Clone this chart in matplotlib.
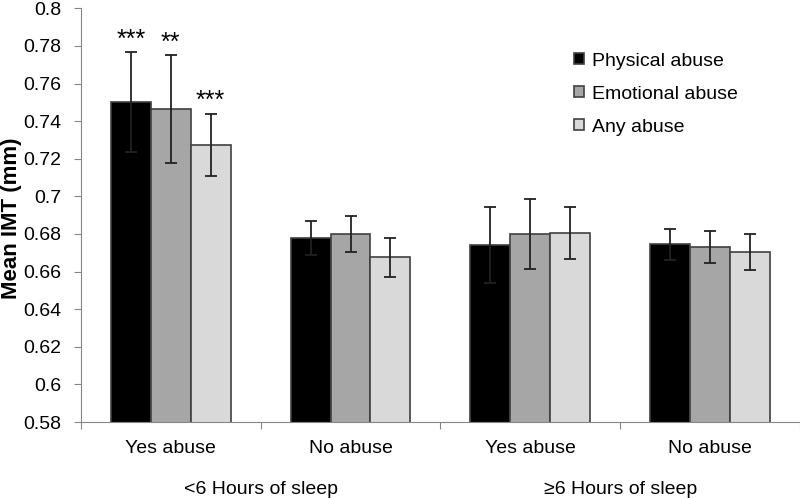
import matplotlib
matplotlib.use("Agg")
import matplotlib.pyplot as plt
import numpy as np

plt.rcParams['font.family'] = ['Liberation Sans', 'DejaVu Sans']

categories = ["Yes abuse", "No abuse", "Yes abuse", "No abuse"]
groups = ["<6 Hours of sleep", "\u22656 Hours of sleep"]
series = ["Physical abuse", "Emotional abuse", "Any abuse"]
colors = ["#000000", "#A6A6A6", "#D9D9D9"]

means = [
    [0.750, 0.678, 0.674, 0.6746],   # physical
    [0.7464, 0.680, 0.680, 0.6729],  # emotional
    [0.7274, 0.6675, 0.6806, 0.6704],  # any
]
errors = [
    [0.0266, 0.009, 0.0203, 0.0083],
    [0.0286, 0.0096, 0.0186, 0.0086],
    [0.0166, 0.0105, 0.0137, 0.0097],
]
stars = [
    ["***", "", "", ""],
    ["**", "", "", ""],
    ["***", "", "", ""],
]

fig = plt.figure(figsize=(8, 4.99), dpi=100)
ax = fig.add_axes([0.101, 0.1543, 0.899, 0.829])

x = np.arange(len(categories))
w = 0.222
for i, name in enumerate(series):
    pos = x + (i - 1) * w
    ax.bar(pos, means[i], w, bottom=0, color=colors[i], edgecolor="#404040",
           linewidth=1.2, label=name, zorder=2)
    ax.errorbar(pos, means[i], yerr=errors[i], fmt="none", ecolor="#222222",
                elinewidth=1.3, capsize=4, capthick=1.3, zorder=3)
    for p, m, e, s in zip(pos, means[i], errors[i], stars[i]):
        if s:
            ax.text(p, m + e + 0.0003, s, ha="center", va="bottom", fontsize=18)

ax.set_ylim(0.58, 0.8)
ax.set_xlim(-0.5, len(categories) - 0.5)
yt = np.arange(0.58, 0.8001, 0.02)
ax.set_yticks(yt)
ax.set_yticklabels(["%g" % round(v, 2) for v in yt])
ax.set_xticks(np.arange(-0.5, len(categories), 1.0))
ax.set_xticklabels([])
ax.set_xticks(x, minor=True)
ax.set_xticklabels(categories, minor=True)
ax.tick_params(axis="x", which="minor", length=0, pad=13, labelsize=14)
ax.tick_params(axis="x", which="major", length=5, color="#868686")
ax.tick_params(axis="y", length=5, color="#868686", labelsize=14, pad=9)

for s in ["top", "right"]:
    ax.spines[s].set_visible(False)
for s in ["left", "bottom"]:
    ax.spines[s].set_color("#868686")

fig.text(0.001, 0.563, "Mean IMT (mm)", rotation=90, ha="left", va="center",
         fontsize=16, fontweight="bold")

for j, g in enumerate(groups):
    ax.text(2 * j + 0.5, -0.162, g, transform=ax.get_xaxis_transform(),
            ha="center", va="center", fontsize=14)

ax.legend(loc="upper left", bbox_to_anchor=(0.662, 0.935), frameon=False,
          fontsize=14, handlelength=0.5, handleheight=0.5, handletextpad=0.4,
          labelspacing=0.82)

fig.savefig("out.png", dpi=100)
